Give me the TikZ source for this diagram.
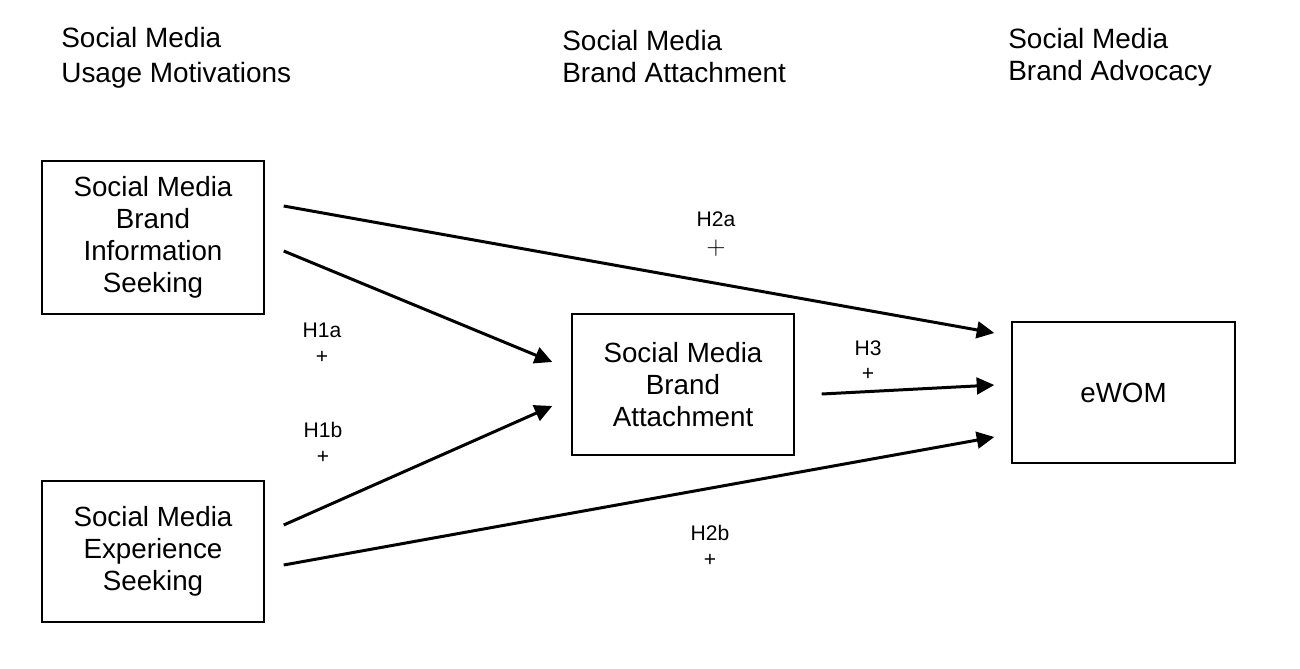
\documentclass[tikz,border=0pt]{standalone}
\usepackage{fontspec}
\setmainfont{Liberation Sans}
\usetikzlibrary{calc,positioning,arrows.meta}
\tikzset{
  box/.style={draw,line width=0.8pt,align=center,minimum width=4.44cm,
              minimum height=2.82cm,inner sep=2pt,font=\fontsize{15.8}{18.3}\selectfont},
  head/.style={anchor=north west,align=left,inner sep=0pt,font=\fontsize{15.9}{18}\selectfont},
  hyp/.style={anchor=north,align=center,inner sep=0pt,font=\fontsize{12}{14.7}\selectfont},
  arr/.style={-{Triangle[length=10pt,width=9.5pt]},line width=1.7pt}
}

\begin{document}
\begin{tikzpicture}
  \useasboundingbox (0,0) rectangle (26,-13.36);
  \node[head,font=\fontsize{15.9}{19.6}\selectfont] (hmot) at (1.22,-0.54) {Social Media\\Usage Motivations};
  \node[head] (hatt) at (11.24,-0.60) {Social Media\\Brand Attachment};
  \node[head] (hadv) at (20.16,-0.56) {Social Media\\Brand Advocacy};

  \node[box,minimum height=3.06cm] (info) at (3.06,-4.75) {Social Media\\Brand\\Information\\Seeking};
  \node[box] (exper) at (3.06,-11.03) {Social Media\\Experience\\Seeking};
  \node[box] (attach) at (13.66,-7.69) {Social Media\\Brand\\Attachment};
  \node[box,minimum width=4.46cm] (ewom) at (22.47,-7.85) {eWOM};

  \coordinate (infoA) at ($(info.east)+(0.38,0.63)$);
  \coordinate (infoB) at ($(info.east)+(0.38,-0.27)$);
  \coordinate (experA) at ($(exper.east)+(0.38,0.53)$);
  \coordinate (experB) at ($(exper.east)+(0.38,-0.27)$);
  \coordinate (attachA) at ($(attach.west)+(-0.38,0.45)$);
  \coordinate (attachB) at ($(attach.west)+(-0.38,-0.43)$);
  \coordinate (attachC) at ($(attach.east)+(0.54,-0.19)$);
  \coordinate (ewomA) at ($(ewom.west)+(-0.34,1.19)$);
  \coordinate (ewomB) at ($(ewom.west)+(-0.34,0.15)$);
  \coordinate (ewomC) at ($(ewom.west)+(-0.34,-0.89)$);
  \draw[arr] (infoA)--(ewomA); \draw[arr] (infoB)--(attachA);
  \draw[arr] (experA)--(attachB); \draw[arr] (experB)--(ewomC);
  \draw[arr] (attachC)--(ewomB);

  \node[hyp] (h1a) at (6.44,-6.46) {H1a\\+};
  \node[hyp] (h1b) at (6.46,-8.44) {H1b\\+};
  \node[hyp] (h3) at (17.36,-6.80) {H3\\+};
  \node[hyp] (h2a) at (14.32,-4.22) {H2a\\[1.5pt]{\fontsize{14}{14}\selectfont$+$}};
  \node[hyp] (h2b) at (14.20,-10.50) {H2b\\+};
\end{tikzpicture}
\end{document}
